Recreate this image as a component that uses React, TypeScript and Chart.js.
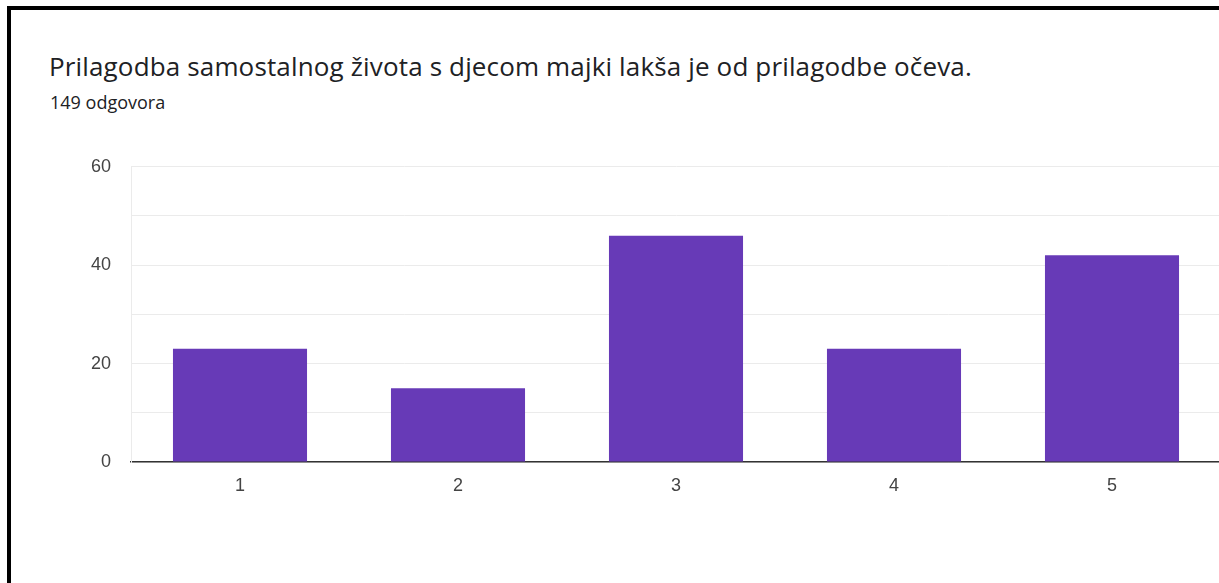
import React, { useEffect, useRef } from "react";
import { Chart, registerables } from "chart.js";

Chart.register(...registerables);

const categories = ["1", "2", "3", "4", "5"];
const responses = [23, 15, 46, 23, 42];
const yTicks = [0, 20, 40, 60];
const titleText = "Prilagodba samostalnog života s djecom majki lakša je od prilagodbe očeva.";
const subtitleText = "149 odgovora";

export default function App() {
  const ref = useRef<HTMLCanvasElement | null>(null);

  useEffect(() => {
    document.body.style.margin = "0";
    const canvas = ref.current;
    if (!canvas) return;
    const chart = new Chart(canvas, {
      type: "bar",
      data: {
        labels: categories,
        datasets: [
          {
            data: responses,
            backgroundColor: "#673ab7",
            borderWidth: 0,
            categoryPercentage: 1,
            barPercentage: 0.615,
          },
        ],
      },
      options: {
        responsive: false,
        animation: false,
        maintainAspectRatio: false,
        layout: { padding: { top: 2, left: 0, right: 0, bottom: 0 } },
        plugins: { legend: { display: false }, tooltip: { enabled: false } },
        scales: {
          x: {
            grid: { display: false, drawTicks: false },
            border: { display: true, color: "#333333", width: 1.5 },
            ticks: {
              color: "#444444",
              font: { family: "'Liberation Sans', Arial, sans-serif", size: 18 },
              padding: 13,
              maxRotation: 0,
            },
            afterFit: (scale: any) => {
              scale.height = 121;
            },
          },
          y: {
            min: 0,
            max: 60,
            afterBuildTicks: (scale: any) => {
              const t: any[] = [];
              for (let v = 0; v <= 60; v += 10) t.push({ value: v });
              scale.ticks = t;
            },
            grid: { color: "#ebebeb", lineWidth: 1, drawTicks: false },
            border: { display: true, color: "#ebebeb", width: 1 },
            ticks: {
              color: "#444444",
              font: { family: "'Liberation Sans', Arial, sans-serif", size: 18 },
              padding: 20,
              callback: (v: any) => (yTicks.includes(Number(v)) ? String(v) : ""),
            },
            afterFit: (scale: any) => {
              scale.width = 131;
            },
          },
        },
      },
    });
    return () => chart.destroy();
  }, []);

  return (
    <div
      style={{
        position: "relative",
        width: 1219,
        height: 583,
        background: "#ffffff",
        overflow: "hidden",
      }}
    >
      <div style={{ position: "absolute", left: 7, top: 6, width: 1212, height: 4, background: "#000" }} />
      <div style={{ position: "absolute", left: 7, top: 6, width: 4, height: 577, background: "#000" }} />
      <div
        style={{
          position: "absolute",
          left: 49,
          top: 53,
          fontFamily: "'Open Sans', Roboto, sans-serif",
          fontSize: 26,
          lineHeight: "26px",
          letterSpacing: "0.15px",
          color: "#202124",
          whiteSpace: "nowrap",
        }}
      >
        {titleText}
      </div>
      <div
        style={{
          position: "absolute",
          left: 50,
          top: 93,
          fontFamily: "'Open Sans', Roboto, sans-serif",
          fontSize: 18,
          lineHeight: "18px",
          color: "#202124",
          whiteSpace: "nowrap",
        }}
      >
        {subtitleText}
      </div>
      <canvas
        ref={ref}
        width={1221}
        height={447}
        style={{ position: "absolute", left: 0, top: 136, width: 1221, height: 447 }}
      />
    </div>
  );
}
